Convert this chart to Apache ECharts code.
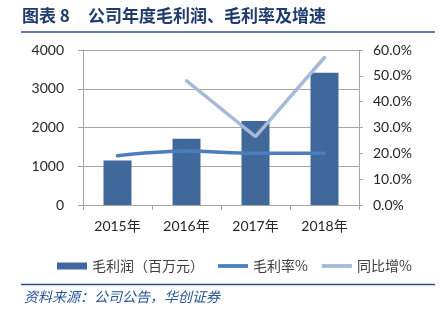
<!DOCTYPE html>
<html>
<head>
<meta charset="utf-8">
<script src="https://cdn.jsdelivr.net/npm/echarts@6/dist/echarts.min.js"></script>
<style>
html,body{margin:0;padding:0;background:#fff;}
#c{width:439px;height:323px;}
</style>
</head>
<body>
<div id="c"></div>
<script>
var categories = ['2015年', '2016年', '2017年', '2018年'];
var grossProfit = [1148, 1710, 2168, 3412];
var grossMargin = [0.191, 0.209, 0.200, 0.200];
var yoyGrowth = [null, 0.481, 0.265, 0.571];
var leftTicks = {min: 0, max: 4000, interval: 1000};
var rightTicks = {min: 0, max: 0.6, interval: 0.1};
var seriesNames = ['毛利润（百万元）', '毛利率%', '同比增%'];
var titleText = '图表 8';
var titleText2 = '公司年度毛利润、毛利率及增速';
var sourceText = '资料来源：公司公告，华创证券';

var latin = "Lato, 'Noto Sans CJK SC', sans-serif";
var cjk = "'Noto Sans CJK SC', sans-serif";
var chart = echarts.init(document.getElementById('c'), null, {renderer: 'canvas'});
var axisGray = '#a6a6a6';
var lineIcon = 'path://M0,0 M0,1.6 L30,1.6 L30,5.4 L0,5.4 Z M30,7';
chart.setOption({
  backgroundColor: '#ffffff',
  animation: false,
  grid: {left: 83, right: 80, top: 50, bottom: 118, containLabel: false},
  legend: {
    left: 52, top: 254,
    itemWidth: 30, itemHeight: 7, itemGap: 14,
    textStyle: {fontFamily: cjk, fontSize: 14, color: '#404040'},
    data: [
      {name: seriesNames[0], icon: 'rect'},
      {name: seriesNames[1], icon: lineIcon},
      {name: seriesNames[2], icon: lineIcon}
    ]
  },
  graphic: [
    {type: 'text', left: 22, top: 7, style: {text: titleText, font: "bold 17px 'Noto Sans CJK SC'", fill: '#1f3a6e'}},
    {type: 'text', left: 88, top: 7, style: {text: titleText2, font: "bold 17px 'Noto Sans CJK SC'", fill: '#1f3a6e'}},
    {type: 'line', shape: {x1: 21, y1: 32, x2: 435, y2: 32}, style: {stroke: '#2e4f8a', lineWidth: 1.5}},
    {type: 'line', shape: {x1: 21, y1: 284.5, x2: 435, y2: 284.5}, style: {stroke: '#2e4f8a', lineWidth: 1.5}},
    {type: 'text', left: 24, top: 290, style: {text: sourceText, font: "italic 14px 'Noto Sans CJK SC'", fill: '#2a5596'}}
  ],
  xAxis: {
    type: 'category',
    data: categories,
    boundaryGap: true,
    axisLine: {show: true, lineStyle: {color: axisGray, width: 1}},
    axisTick: {show: true, length: 5, alignWithLabel: false, lineStyle: {color: axisGray}},
    axisLabel: {fontFamily: latin, fontSize: 14, color: '#262626', margin: 14}
  },
  yAxis: [
    {
      type: 'value', min: leftTicks.min, max: leftTicks.max, interval: leftTicks.interval,
      axisLine: {show: true, lineStyle: {color: axisGray}},
      axisTick: {show: true, length: 5, lineStyle: {color: axisGray}},
      splitLine: {show: true, lineStyle: {color: axisGray, width: 1}},
      axisLabel: {fontFamily: latin, fontSize: 14, color: '#262626', margin: 19,
        formatter: function (v) { return String(v); }}
    },
    {
      type: 'value', min: rightTicks.min, max: rightTicks.max, interval: rightTicks.interval,
      position: 'right',
      axisLine: {show: true, lineStyle: {color: axisGray}},
      axisTick: {show: true, length: 4, lineStyle: {color: axisGray}},
      splitLine: {show: false},
      axisLabel: {fontFamily: latin, fontSize: 14, color: '#262626', margin: 14,
        formatter: function (v) { return (v * 100).toFixed(1) + '%'; }}
    }
  ],
  series: [
    {
      name: seriesNames[0], type: 'bar', data: grossProfit, barWidth: 28,
      itemStyle: {color: '#41689b'}
    },
    {
      name: seriesNames[1], type: 'line', yAxisIndex: 1, data: grossMargin,
      smooth: 0.35, symbol: 'none', showSymbol: false,
      lineStyle: {color: '#4a7ebf', width: 3.5, cap: 'round'},
      itemStyle: {color: '#4a7ebf'}
    },
    {
      name: seriesNames[2], type: 'line', yAxisIndex: 1, data: yoyGrowth,
      symbol: 'none', showSymbol: false,
      lineStyle: {color: '#a7b9d9', width: 3.5, cap: 'round'},
      itemStyle: {color: '#a7b9d9'}
    }
  ]
});
</script>
</body>
</html>
